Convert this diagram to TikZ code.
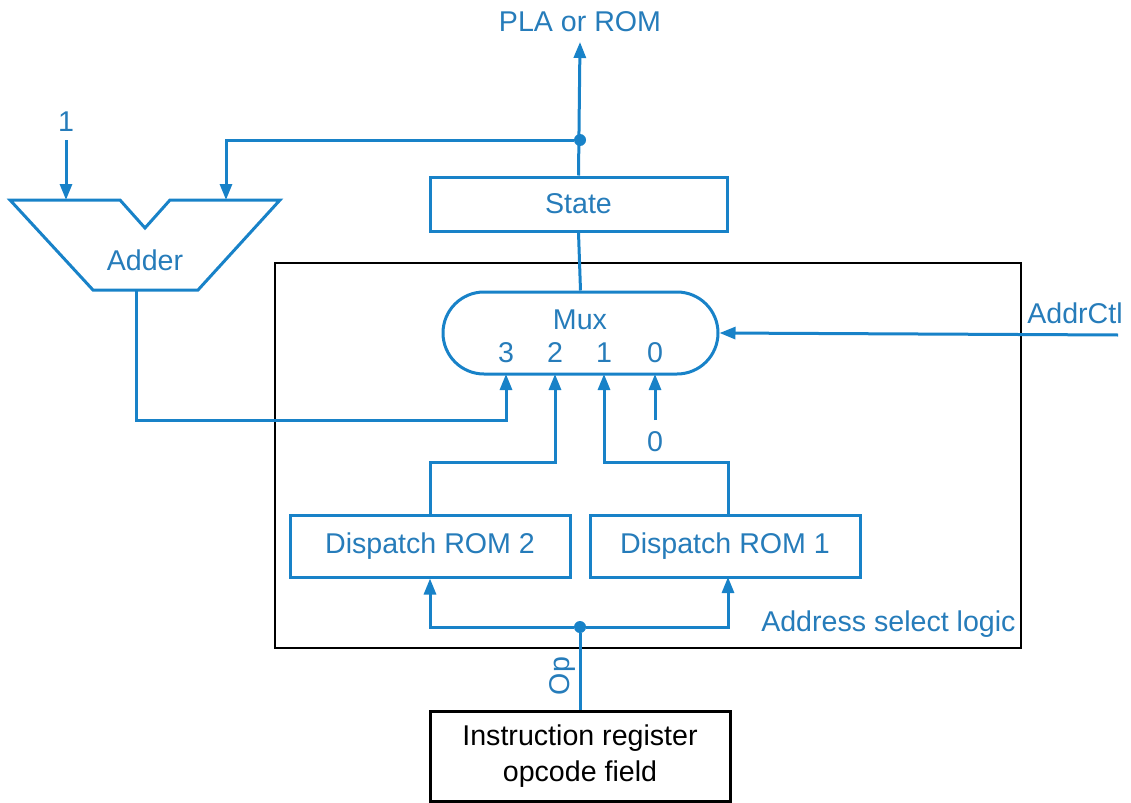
\documentclass[tikz,border=0pt]{standalone}
\usepackage{fontspec}
\setmainfont{Liberation Sans}
\usetikzlibrary{arrows.meta}
\definecolor{wire}{RGB}{24,130,200}
\definecolor{txt}{RGB}{38,124,186}
\tikzset{
  wireline/.style={draw=wire,line width=1.5pt},
  arr/.style={wireline,-{Triangle[length=8pt,width=6pt]}},
  bluebox/.style={draw=wire,line width=1.5pt,rectangle,text=txt,font=\fontsize{14.3}{17}\selectfont,inner sep=0pt},
  lbl/.style={text=txt,font=\fontsize{14.3}{17}\selectfont,inner sep=0pt},
  junction/.style={circle,fill=wire,inner sep=0pt,minimum size=6pt},
}
\begin{document}
\begin{tikzpicture}[x=0.5pt,y=-0.5pt]
\useasboundingbox (0,0) rectangle (1131,803);
% outer address select logic box
\draw[black,line width=0.9pt] (275,263) rectangle (1021,648);
\node[lbl,anchor=east] (asl) at (1016,624) {Address select logic};

% boxes
\node[bluebox,minimum width=148.5pt,minimum height=27pt] (state) at (578.5,204) {State};
\node[bluebox,rounded corners=20.5pt,minimum width=137.5pt,minimum height=41pt] (mux) at (580.5,333) {};
\node[lbl] (muxl) at (580,320) {Mux};
\node[lbl] (m3) at (506,353) {3};
\node[lbl] (m2) at (555,353) {2};
\node[lbl] (m1) at (604,353) {1};
\node[lbl] (m0) at (655,353) {0};
\node[bluebox,minimum width=140pt,minimum height=31pt] (dr2) at (430,546) {Dispatch ROM 2};
\node[bluebox,minimum width=135pt,minimum height=31pt] (dr1) at (725,546) {Dispatch ROM 1};
\node[draw=black,line width=1.5pt,minimum width=150pt,minimum height=45pt,align=center,font=\fontsize{14.3}{18}\selectfont,inner sep=0pt] (ir) at (580,756) {Instruction register\\opcode field};

% adder shape
\draw[wireline,line join=miter] (10,200) -- (120,200) -- (145,228) -- (170,200) -- (280,200) -- (198,290) -- (93,290) -- cycle;
\node[lbl] (adder) at (145,260) {Adder};
\coordinate (addin1) at (66,200);
\coordinate (addin2) at (226,200);
\coordinate (addout) at (136,290);

% top output
\node[lbl] (pla) at (580,22) {PLA or ROM};
\coordinate (top) at (580,42);
\node[junction] (j1) at (580,140) {};
\draw[arr] (state.north) -- (top);
\draw[arr] (j1) -| (addin2);
\node[lbl] (one) at (66,122) {1};
\draw[arr] (66,140) -- (addin1);

% state to mux
\draw[wireline] (state.south) -- (mux.north);

% mux inputs
\draw[arr] (addout) |- (506,420) -- (506,374);
\draw[arr] (dr2.north) |- (555,462) -- (555,374);
\draw[arr] (728,515) |- (604,462) -- (604,374);
\node[lbl] (zero) at (655,442) {0};
\draw[arr] (655,420) -- (655,374);

% AddrCtl
\node[lbl] (addrctl) at (1075,313) {AddrCtl};
\coordinate (actl) at (1118,335);
\draw[arr] (actl) -- (mux.east);

% Op distribution
\node[junction] (j2) at (580,627) {};
\draw[wireline] (ir.north) -- (j2);
\draw[arr] (j2) -| (dr2.south);
\draw[arr] (j2) -| (728,577);
\node[lbl,rotate=90] (op) at (562,676) {Op};
\end{tikzpicture}
\end{document}
